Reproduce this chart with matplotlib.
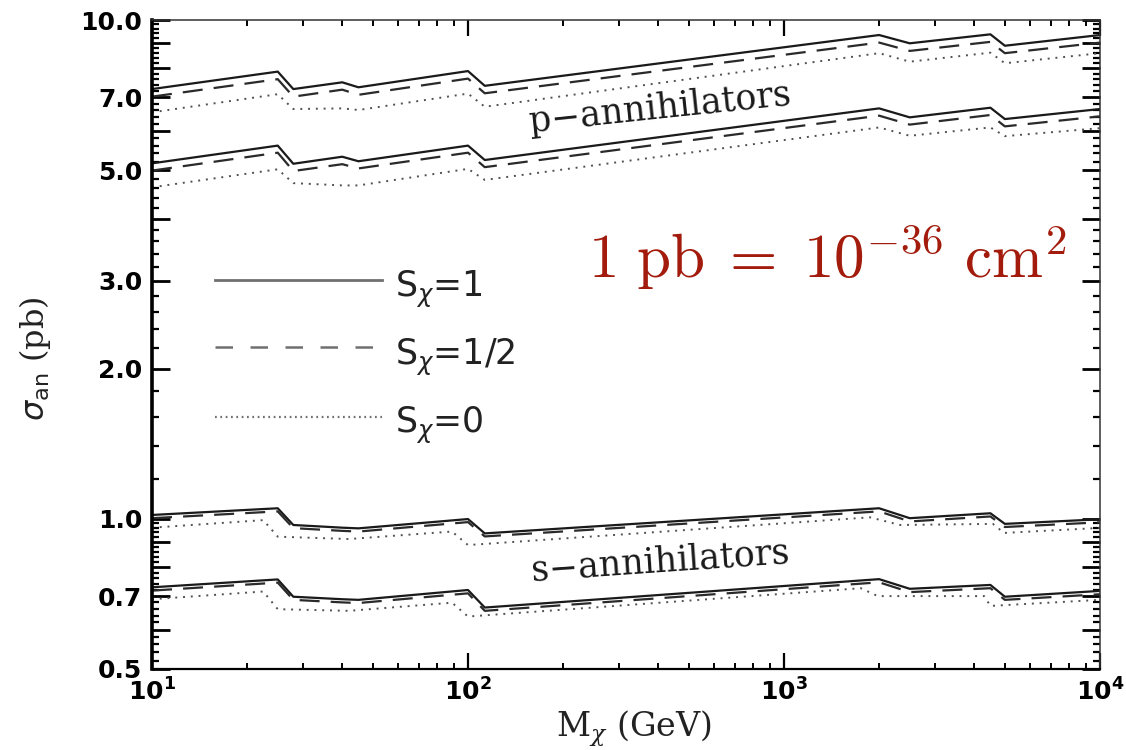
import numpy as np
import matplotlib
matplotlib.use("Agg")
import matplotlib.pyplot as plt
from matplotlib.ticker import FixedLocator, FuncFormatter, LogLocator, NullFormatter

plt.rcParams['mathtext.fontset'] = 'cm'

# WIMP mass grid (GeV) where the thresholds kink the curves
mass = [10, 25, 28, 40, 45, 100, 113, 2000, 2500, 4500, 5000, 10000]

# p-annihilators, two bands
p_hi_s1 = [7.27, 7.88, 7.27, 7.50, 7.33, 7.90, 7.38, 9.33, 8.98, 9.36, 8.88, 9.33]
p_hi_s12 = [7.02, 7.61, 7.02, 7.25, 7.08, 7.63, 7.13, 9.01, 8.67, 9.04, 8.58, 9.01]
p_hi_s0 = [6.53, 7.10, 6.63, 6.65, 6.60, 7.12, 6.70, 8.58, 8.25, 8.60, 8.19, 8.58]
p_lo_s1 = [5.16, 5.60, 5.15, 5.32, 5.21, 5.60, 5.24, 6.65, 6.38, 6.67, 6.33, 6.63]
p_lo_s12 = [4.99, 5.42, 4.98, 5.14, 5.04, 5.42, 5.07, 6.43, 6.17, 6.45, 6.12, 6.41]
p_lo_s0 = [4.62, 5.02, 4.71, 4.66, 4.66, 5.03, 4.78, 6.09, 5.86, 6.09, 5.85, 6.07]

# s-annihilators, two bands
s_hi_s1 = [1.018, 1.05, 0.972, 0.960, 0.957, 0.999, 0.935, 1.05, 1.003, 1.026, 0.977, 0.998]
s_hi_s12 = [1.003, 1.035, 0.958, 0.946, 0.943, 0.985, 0.922, 1.035, 0.988, 1.011, 0.963, 0.984]
s_lo_s1 = [0.729, 0.756, 0.698, 0.690, 0.688, 0.720, 0.664, 0.757, 0.724, 0.737, 0.698, 0.717]
s_lo_s12 = [0.718, 0.745, 0.688, 0.680, 0.678, 0.709, 0.654, 0.746, 0.713, 0.726, 0.688, 0.706]

# S=0 s-annihilator curves have their own thresholds
mass_s0_hi = [10, 22.5, 25, 42, 89, 100, 1870, 2330, 4580, 4970, 10000]
s_hi_s0 = [0.960, 0.994, 0.921, 0.911, 0.943, 0.886, 1.007, 0.972, 0.977, 0.937, 0.959]
mass_s0_lo = [10, 22.5, 25, 42, 89, 100, 1750, 1980, 4300, 4500, 10000]
s_lo_s0 = [0.690, 0.715, 0.659, 0.654, 0.679, 0.637, 0.726, 0.700, 0.700, 0.669, 0.688]

y_major = [0.5, 0.6, 0.7, 0.8, 0.9, 1, 2, 3, 4, 5, 6, 7, 8, 9, 10]
y_labelled = [0.5, 0.7, 1, 2, 3, 5, 7, 10]

fig = plt.figure(figsize=(11.26, 7.5), dpi=100)
ax = fig.add_axes([152/1126, 1-669/750, 948/1126, 649/750])

solid = dict(color='#1a1a1a', lw=1.6, ls='-')
dashed = dict(color='#2a2a2a', lw=1.6, ls=(0, (9, 5)))
dotted = dict(color='#505050', lw=1.4, ls=(0, (1, 3)))

for y in [p_hi_s1, p_lo_s1, s_hi_s1, s_lo_s1]:
    ax.plot(mass, y, **solid)
for y in [p_hi_s12, p_lo_s12, s_hi_s12, s_lo_s12]:
    ax.plot(mass, y, **dashed)
ax.plot(mass, p_hi_s0, **dotted)
ax.plot(mass, p_lo_s0, **dotted)
ax.plot(mass_s0_hi, s_hi_s0, **dotted)
ax.plot(mass_s0_lo, s_lo_s0, **dotted)

ax.set_xscale('log')
ax.set_yscale('log')
ax.set_xlim(10, 1e4)
ax.set_ylim(0.5, 10)

# x axis: decades with 2..9 minors
ax.xaxis.set_major_locator(FixedLocator([10, 100, 1000, 10000]))
ax.xaxis.set_minor_locator(LogLocator(base=10, subs=np.arange(2, 10)))
ax.xaxis.set_minor_formatter(NullFormatter())
ax.xaxis.set_major_formatter(FuncFormatter(
    lambda v, p: r'$\mathbf{10^{%d}}$' % round(np.log10(v))))

# y axis: IDL style, majors at every unit, labels only on a few
y_minor = list(np.arange(0.52, 1.0, 0.02)) + list(np.arange(1.2, 10.0, 0.2))
ax.yaxis.set_major_locator(FixedLocator(y_major))
ax.yaxis.set_minor_locator(FixedLocator(y_minor))
ax.yaxis.set_minor_formatter(NullFormatter())
ax.yaxis.set_major_formatter(FuncFormatter(
    lambda v, p: '%.1f' % v if any(abs(v - l) < 1e-6 for l in y_labelled) else ''))

ax.tick_params(axis='x', which='major', direction='in', length=11.5, width=1.6,
               top=True, pad=7, labelsize=18)
ax.tick_params(axis='x', which='minor', direction='in', length=4.5, width=1.4, top=True)
ax.tick_params(axis='y', which='major', direction='in', length=13, width=2.0,
               right=True, pad=7, labelsize=18)
ax.tick_params(axis='y', which='minor', direction='in', length=5, width=1.6, right=True)
for lab in ax.get_yticklabels():
    lab.set_fontweight('bold')
for lab in ax.get_xticklabels():
    lab.set_math_fontfamily('dejavusans')

ax.spines['left'].set_linewidth(2.6)
ax.spines['bottom'].set_linewidth(1.6)
ax.spines['top'].set_linewidth(1.1)
ax.spines['right'].set_linewidth(1.1)
ax.spines['top'].set_color('#333333')
ax.spines['right'].set_color('#333333')

# hand-drawn key
key_x = [0.0665, 0.2426]
ax.plot(key_x, [0.5994, 0.5994], transform=ax.transAxes, color='#707070', lw=2.0)
ax.plot(key_x, [0.4961, 0.4961], transform=ax.transAxes, color='#707070', lw=1.8,
        ls=(0, (7, 7)))
ax.plot(key_x, [0.3883, 0.3883], transform=ax.transAxes, color='#707070', lw=1.6,
        ls=(0, (0.8, 1.6)))
key_kw = dict(transform=ax.transAxes, fontsize=25, family='DejaVu Sans',
              math_fontfamily='dejavusans', ha='left', va='baseline', color='#222222')
ax.text(0.2563, 0.5737, r'S$_\chi$=1', **key_kw)
ax.text(0.2563, 0.4684, r'S$_\chi$=1/2', **key_kw)
ax.text(0.2563, 0.3636, r'S$_\chi$=0', **key_kw)

ax.text(0.536, 0.8644, 'p\u2212annihilators', transform=ax.transAxes, fontsize=25,
        family='DejaVu Serif', rotation=6, rotation_mode='anchor',
        ha='center', va='center', color='#1a1a1a')
ax.text(0.536, 0.1649, 's\u2212annihilators', transform=ax.transAxes, fontsize=25,
        family='DejaVu Serif', rotation=4, rotation_mode='anchor',
        ha='center', va='center', color='#1a1a1a')

ax.text(0.460, 0.6025, r'$1\ \mathrm{pb}\;=\;10^{-36}\ \mathrm{cm}^2$',
        transform=ax.transAxes, fontsize=44, color='#a31b0c',
        ha='left', va='baseline')

fig.text(634/1126, 1-737/750, r'M$_\chi$ (GeV)', fontsize=24, family='DejaVu Serif',
         math_fontfamily='dejavuserif', ha='center', va='baseline', color='#222222')
fig.text(35/1126, 1-359/750, r'$\sigma_{\rm an}$ (pb)', fontsize=23,
         family='DejaVu Serif', math_fontfamily='dejavusans', rotation=90,
         ha='center', va='center', color='#222222')

fig.savefig('out.png', dpi=100)
